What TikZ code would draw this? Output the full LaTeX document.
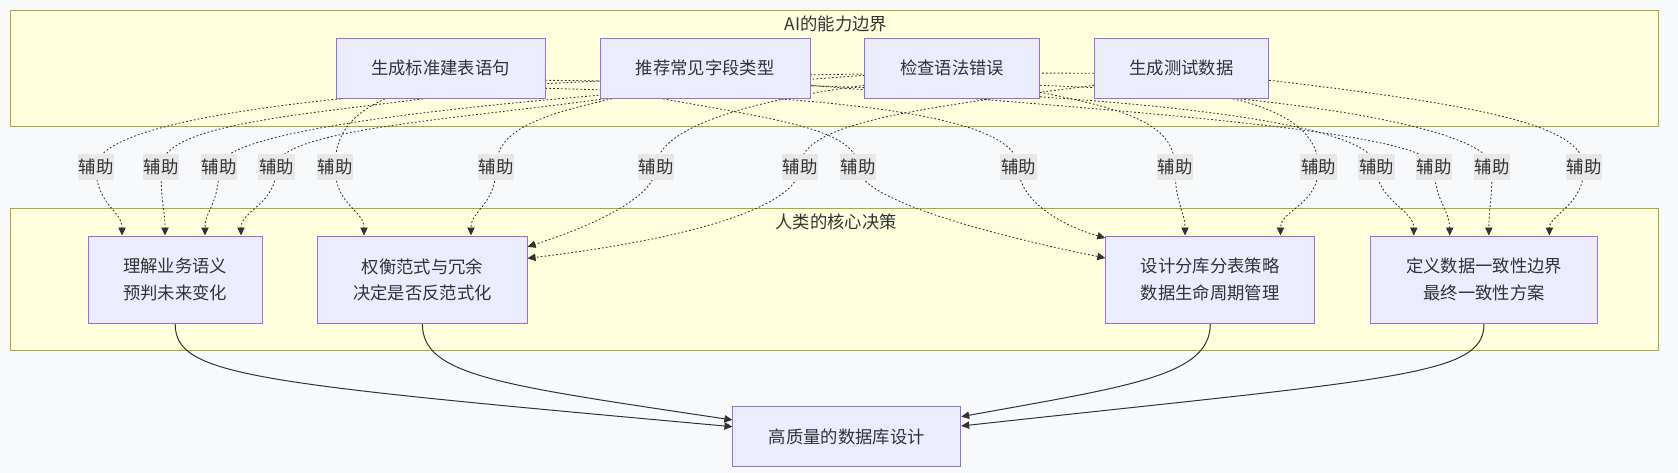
\documentclass[tikz,border=0pt]{standalone}
\usepackage{fontspec}
\setmainfont{Noto Sans CJK SC}
\usepackage{xcolor}
\usepackage{tikz}
\usetikzlibrary{calc,arrows.meta,positioning}
\definecolor{grpfill}{HTML}{FFFFDE}
\definecolor{grpline}{HTML}{AAAA33}
\definecolor{boxfill}{HTML}{ECECFF}
\definecolor{boxline}{HTML}{9370DB}
\definecolor{inkc}{HTML}{333333}
\definecolor{lblbg}{HTML}{E8E8E8}
\definecolor{pagebg}{HTML}{F8F9FB}
\pgfdeclarelayer{grplayer}
\pgfdeclarelayer{edgelayer}
\pgfsetlayers{grplayer,edgelayer,main}
\tikzset{
  grp/.style={draw=grpline,fill=grpfill,line width=0.75pt},
  box/.style={draw=boxline,fill=boxfill,line width=0.75pt,inner sep=0pt,align=center,text=inkc,font=\fontsize{13}{20}\selectfont},
  aibox/.style={box,minimum width=#1,minimum height=45pt},
  hubox/.style={box,minimum width=#1,minimum height=65.5pt},
  lbl/.style={fill=lblbg,text=inkc,inner xsep=0.6pt,inner ysep=0pt,minimum height=19.5pt,font=\fontsize{13}{20}\selectfont},
  ttl/.style={text=inkc,inner sep=0pt,font=\fontsize{13}{20}\selectfont},
  dar/.style={-{Triangle[length=6pt,width=5.5pt]},inkc,line width=0.65pt,dash pattern=on 1.3pt off 1.6pt},
  sar/.style={-{Triangle[length=6pt,width=5.5pt]},inkc,line width=0.75pt}
}

\begin{document}
\begin{tikzpicture}[x=0.75pt,y=-0.75pt]
\useasboundingbox (0,0) rectangle (1678,473);

% groups
\begin{pgfonlayer}{grplayer}
\fill[pagebg] (0,0) rectangle (1678,473);
\draw[grp] (10.7,10.3) rectangle (1658.3,126.3);
\draw[grp] (10.7,208.3) rectangle (1658.3,351);
\end{pgfonlayer}
\node[ttl] (aittl) at (836,24) {AI的能力边界};
\node[ttl] (huttl) at (836,222) {人类的核心决策};

% AI side
\node[aibox=156.75pt] (A1) at (440.5,68.3) {生成标准建表语句};
\node[aibox=157.5pt] (A2) at (705,68.3) {推荐常见字段类型};
\node[aibox=130.9pt] (A3) at (952.2,68.3) {检查语法错误};
\node[aibox=130.5pt] (A4) at (1181.6,68.3) {生成测试数据};

% human side
\node[hubox=130.2pt] (H1) at (175.2,279.7) {理解业务语义\\预判未来变化};
\node[hubox=157pt] (H2) at (422.4,279.7) {权衡范式与冗余\\决定是否反范式化};
\node[hubox=156.75pt] (H3) at (1210.3,279.7) {设计分库分表策略\\数据生命周期管理};
\node[hubox=170.25pt] (H4) at (1484,279.7) {定义数据一致性边界\\最终一致性方案};

\node[aibox=170.85pt] (R) at (846.8,436.7) {高质量的数据库设计};

% edge labels
\foreach \n/\x in {1/96,2/161,3/219,4/276.4,5/335,6/496,7/656,8/800,9/858,10/1018.5,11/1175,12/1318.5,13/1376.4,14/1434.2,15/1492.1,16/1584}
  \node[lbl] (l\n) at (\x,167.3) {辅助};

\begin{pgfonlayer}{edgelayer}
% to H1
\draw[dar] ($(A4.west)+(0,5)$) .. controls (500,70) and (96,105) .. (l1.center) .. controls (96,205) and (122,210) .. ($(H1.north)+(-53.2,0)$);
\draw[dar] ($(A1.south)+(-17.5,0)$) .. controls (300,115) and (161,125) .. (l2.center) .. controls (161,205) and (165,210) .. ($(H1.north)+(-10.2,0)$);
\draw[dar] ($(A3.west)+(0,7)$) .. controls (700,88) and (219,115) .. (l3.center) .. controls (219,205) and (205,210) .. ($(H1.north)+(29.8,0)$);
\draw[dar] ($(A2.south west)+(5,0)$) .. controls (450,120) and (276.4,130) .. (l4.center) .. controls (276.4,205) and (241,210) .. ($(H1.north)+(65.8,0)$);
% to H2
\draw[dar] ($(A1.south)+(-55.5,0)$) .. controls (350,115) and (335,135) .. (l5.center) .. controls (335,205) and (364,210) .. ($(H2.north)+(-58.4,0)$);
\draw[dar] ($(A2.south)+(-93,0)$) .. controls (540,115) and (496,130) .. (l6.center) .. controls (496,205) and (471,210) .. ($(H2.north)+(48.6,0)$);
\draw[dar] ($(A3.west)+(0,17)$) .. controls (790,95) and (656,120) .. (l7.center) .. controls (656,200) and (580,230) .. ($(H2.east)+(0,-33)$);
\draw[dar] ($(A4.west)+(0,17)$) .. controls (900,110) and (800,125) .. (l8.center) .. controls (800,200) and (720,235) .. ($(H2.east)+(0,-21.4)$);
% to H3
\draw[dar] ($(A2.south)+(-42,0)$) .. controls (780,120) and (858,130) .. (l9.center) .. controls (858,205) and (1040,245) .. ($(H3.west)+(0,-21.7)$);
\draw[dar] ($(A1.east)+(0,20)$) .. controls (800,95) and (1018.5,110) .. (l10.center) .. controls (1018.5,200) and (1060,225) .. ($(H3.west)+(0,-41.7)$);
\draw[dar] ($(A3.east)+(0,24)$) .. controls (1130,110) and (1175,125) .. (l11.center) .. controls (1175,205) and (1185,210) .. ($(H3.north)+(-25.3,0)$);
\draw[dar] ($(A4.south)+(51.4,0)$) .. controls (1280,110) and (1318.5,130) .. (l12.center) .. controls (1318.5,205) and (1280.5,210) .. ($(H3.north)+(70.2,0)$);
% to H4
\draw[dar] ($(A1.east)+(0,12)$) .. controls (1000,85) and (1376.4,110) .. (l13.center) .. controls (1376.4,200) and (1413.8,210) .. ($(H4.north)+(-70.2,0)$);
\draw[dar] ($(A2.east)+(0,17)$) .. controls (1100,110) and (1434.2,130) .. (l14.center) .. controls (1434.2,200) and (1449.7,210) .. ($(H4.north)+(-34.3,0)$);
\draw[dar] ($(A3.east)+(0,17)$) .. controls (1300,95) and (1492.1,130) .. (l15.center) .. controls (1492.1,200) and (1488.8,210) .. ($(H4.north)+(4.8,0)$);
\draw[dar] ($(A4.east)+(0,12)$) .. controls (1480,105) and (1584,125) .. (l16.center) .. controls (1584,205) and (1549.4,215) .. ($(H4.north)+(65.4,0)$);
% to result
\draw[sar] (H1.south) .. controls +(0,52) and (250,383) .. ($(R.west)+(0,-10)$);
\draw[sar] (H2.south) .. controls +(0,52) and (500,385) .. ($(R.west)+(0,-16.7)$);
\draw[sar] (H3.south) .. controls +(0,52) and (1130,386) .. ($(R.east)+(0,-20)$);
\draw[sar] (H4.south) .. controls +(0,52) and (1400,378) .. ($(R.east)+(0,-10.7)$);
\end{pgfonlayer}
\end{tikzpicture}
\end{document}
